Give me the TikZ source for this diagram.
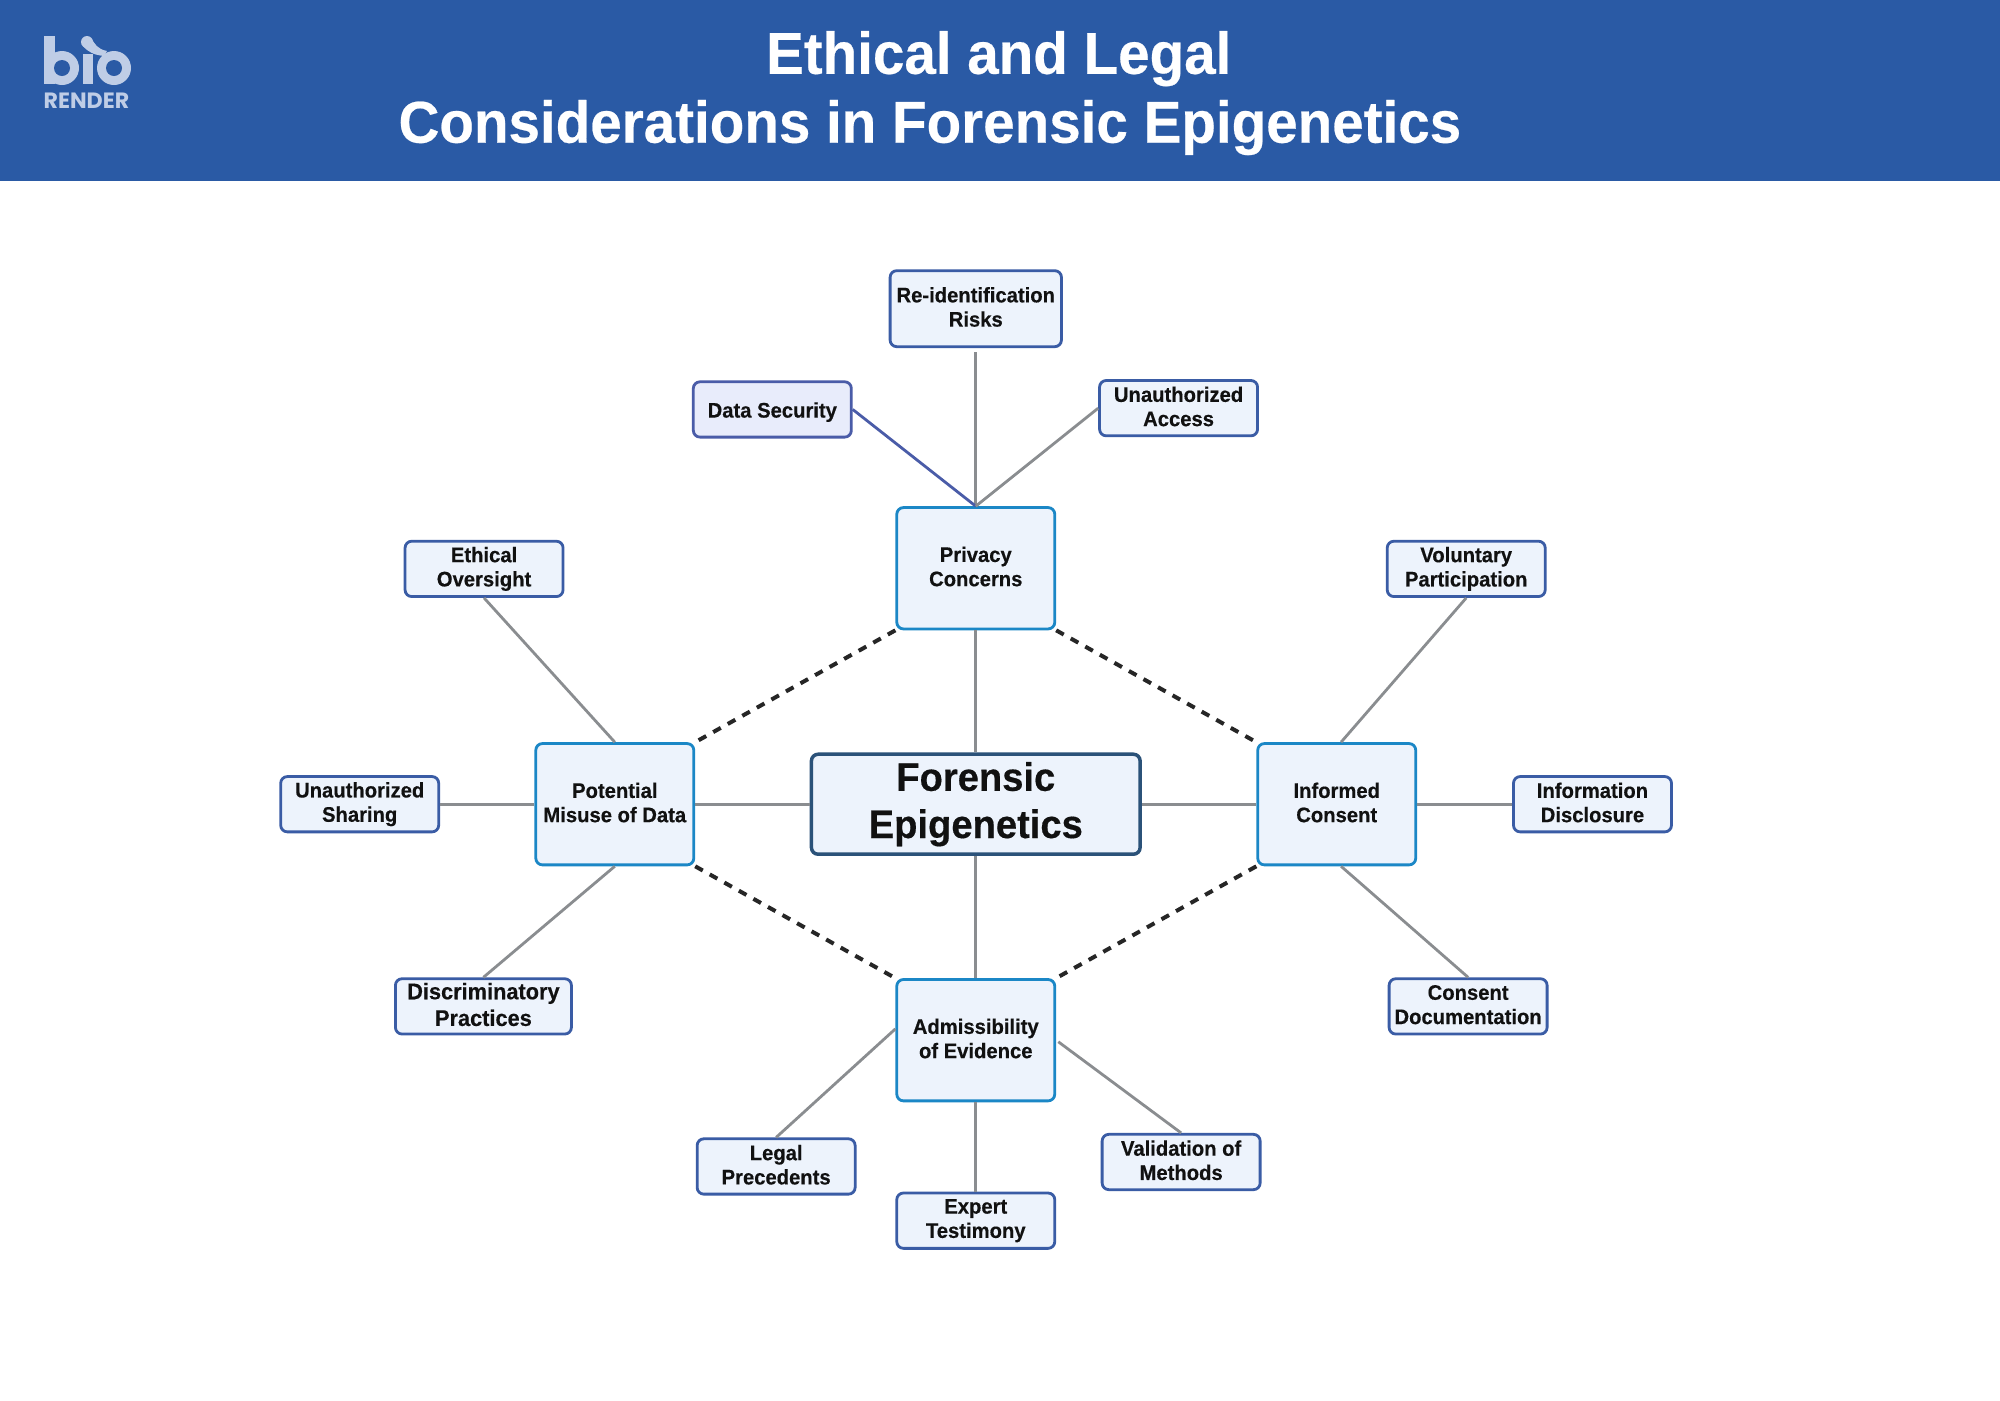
\documentclass[tikz,border=0pt]{standalone}
\usepackage{fontspec}
\setmainfont{Liberation Sans}[BoldFeatures={FakeStretch=0.96,FakeBold=0.4}]
\newfontfamily\logofont{Poppins}
\definecolor{hdr}{HTML}{2A5AA5}
\definecolor{logoc}{HTML}{BFCDE6}
\definecolor{boxfill}{HTML}{EDF3FC}
\definecolor{secfill}{HTML}{E8ECFB}
\definecolor{leafline}{HTML}{3A5CA5}
\definecolor{secline}{HTML}{4A5CA8}
\definecolor{midline}{HTML}{1B87C6}
\definecolor{coreline}{HTML}{2B5279}
\definecolor{conn}{HTML}{8A8D90}
\definecolor{ink}{HTML}{111111}
\newcommand\nstrut{\rule[-0.15\baselineskip]{0pt}{\baselineskip}}
\tikzset{
  u/.style={x=0.9566pt,y=-0.9566pt},
  boxbase/.style={draw,fill=boxfill,rounded corners=5pt,inner sep=0pt,align=center,text=ink,line width=2.1pt,
    font=\fontsize{15.8}{18.2}\selectfont\bfseries,
    execute at begin node=\nstrut,execute at end node=\nstrut},
  leaf/.style={boxbase,draw=leafline,minimum width=118.5pt,minimum height=41.5pt},
  tall/.style={leaf,minimum height=57pt,minimum width=128.5pt},
  secleaf/.style={leaf,draw=secline,fill=secfill},
  mid/.style={boxbase,draw=midline,minimum width=118.5pt,minimum height=91pt},
  core/.style={boxbase,draw=coreline,line width=2.6pt,minimum width=246.5pt,minimum height=75pt,
    font=\fontsize{29.8}{35.4}\selectfont\bfseries},
  link/.style={draw=conn,line width=2.1pt},
  seclink/.style={draw=secline,line width=2.1pt},
  dashlink/.style={draw=black!85,line width=3pt,dash pattern=on 6.5pt off 6pt},
  titletext/.style={text=white,inner sep=0pt,font=\fontsize{44.2}{51.7}\selectfont\bfseries},
}
\begin{document}
\begin{tikzpicture}[u]
\useasboundingbox (0,0) rectangle (1568,1097.6);
\fill[white] (0,0) rectangle (1568,1097.6);
\fill[hdr] (0,0) rectangle (1568,142);
% logo (drawn in 2000-px units)
\begin{scope}[x=0.75pt,y=-0.75pt]
  \fill[logoc] (44,36) rectangle (55,84);
  \fill[logoc] (62,68) circle (17);
  \fill[logoc] (83,54) rectangle (93,84);
  \fill[logoc] (87,42) circle (6);
  \fill[logoc] (114,68) circle (17);
  \fill[logoc] (91,38) .. controls (95,44) and (97,49) .. (107,51) -- (104,56) .. controls (94,55) and (88,52) .. (83,46) -- cycle;
  \fill[hdr] (62,68) circle (8);
  \fill[hdr] (114,68) circle (8);
\end{scope}
\node[text=logoc,inner sep=0pt,anchor=base west,font=\logofont\fontsize{16.6}{16.6}\selectfont\bfseries] (logotext) at (34,84.8) {RENDER};
\node[titletext] (t1) at (783,46) {Ethical and Legal};
\node[titletext] (t2) at (729,100) {Considerations in Forensic Epigenetics};
% nodes
\node[core] (core) at (765,630.5) {Forensic\\Epigenetics};
\node[mid] (priv) at (765,445.5) {Privacy\\Concerns};
\node[mid] (mis) at (482,630.5) {Potential\\Misuse of Data};
\node[mid] (inf) at (1048,630.5) {Informed\\Consent};
\node[mid] (adm) at (765,815.5) {Admissibility\\of Evidence};
\node[tall] (reid) at (765,242) {Re-identification\\Risks};
\node[secleaf] (sec) at (605.5,321) {Data Security};
\node[leaf] (una) at (924,320) {Unauthorized\\Access};
\node[leaf] (eth) at (379.5,446) {Ethical\\Oversight};
\node[leaf] (vol) at (1149.5,446) {Voluntary\\Participation};
\node[leaf] (sha) at (282,630.5) {Unauthorized\\Sharing};
\node[leaf] (dis) at (1248.5,630.5) {Information\\Disclosure};
\node[leaf,minimum width=132pt,font=\fontsize{17}{20}\selectfont\bfseries] (dcr) at (379,789) {Discriminatory\\Practices};
\node[leaf] (doc) at (1151,789) {Consent\\Documentation};
\node[leaf] (leg) at (608.5,914.5) {Legal\\Precedents};
\node[leaf] (val) at (926,911) {Validation of\\Methods};
\node[leaf] (exp) at (765,957) {Expert\\Testimony};
% connectors
\draw[link] (core) -- (priv);
\draw[link] (core) -- (mis);
\draw[link] (core) -- (inf);
\draw[link] (core) -- (adm);
\draw[link,shorten >=3pt] (priv.north) -- (reid.south);
\draw[seclink] (priv.north) -- (sec.east);
\draw[link] (priv.north) -- (una.west);
\draw[link] (mis.north) -- (eth.south);
\draw[link] (mis.west) -- (sha.east);
\draw[link] (mis.south) -- (dcr.north);
\draw[link] (inf.86) -- (vol.south);
\draw[link] (inf.east) -- (dis.west);
\draw[link] (inf.-86) -- (doc.north);
\draw[link] (adm.172) -- (leg.north);
\draw[link,shorten <=2pt] (adm.east) -- (val.north);
\draw[link] (adm.south) -- (exp.north);
\draw[dashlink] (priv.south west) -- (mis.north east);
\draw[dashlink] (priv.south east) -- (inf.north west);
\draw[dashlink] (mis.south east) -- (adm.north west);
\draw[dashlink] (inf.south west) -- (adm.north east);
\end{tikzpicture}
\end{document}
